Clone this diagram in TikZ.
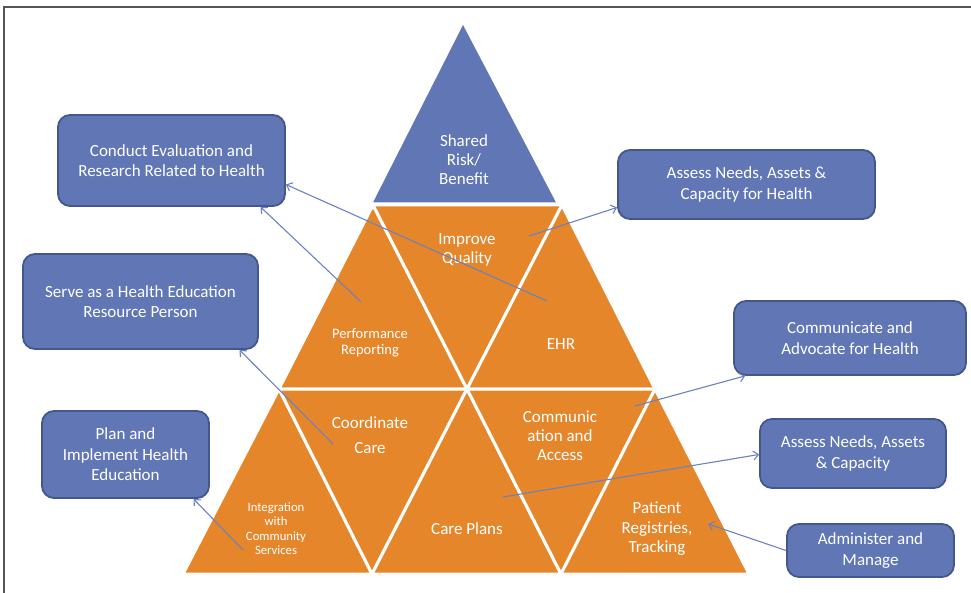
\documentclass[tikz,border=0pt]{standalone}
\usepackage{fontspec}
\setmainfont{Carlito}
\usetikzlibrary{arrows.meta,calc}
\definecolor{capblue}{HTML}{6076B5}
\definecolor{capedge}{HTML}{43578C}
\definecolor{tileorange}{HTML}{E6862A}
\definecolor{linkblue}{HTML}{6A82C0}
\definecolor{framegray}{HTML}{555555}
\begin{document}
\begin{tikzpicture}[x=1pt,y=-1pt,
  tile/.style={fill=tileorange,draw=white,line width=3pt,line join=miter},
  tilelabel/.style={text=white,align=center,inner sep=0pt,font=\fontsize{17}{19.5}\selectfont},
  smalllabel/.style={tilelabel,font=\fontsize{14.5}{16}\selectfont},
  tinylabel/.style={tilelabel,font=\fontsize{12.7}{14.5}\selectfont},
  rolebox/.style={rectangle,rounded corners=12pt,fill=capblue,draw=capedge,
    line width=1.8pt,text=white,align=center,inner sep=0pt,
    font=\fontsize{17}{20.5}\selectfont},
  link/.style={draw=linkblue,line width=1.1pt,-{Straight Barb[length=5pt,width=9pt]}},
]
\useasboundingbox (0,0) rectangle (971,593);
% frame edges
\draw[framegray,line width=1.2pt] (4,593) -- (4,7) -- (971,7);

% lattice of the pyramid
\coordinate (A1) at (373,205);
\coordinate (A2) at (562,205);
\coordinate (B0) at (279,389);
\coordinate (B1) at (467,389);
\coordinate (B2) at (655,389);
\coordinate (C0) at (183,574);
\coordinate (C1) at (372,574);
\coordinate (C2) at (561,574);
\coordinate (C3) at (749,574);

% top cap
\fill[capblue] (463,25) -- (373,202.5) -- (556,202.5) -- cycle;

% orange tiles
\path[tile] (A1) -- (B0) -- (B1) -- cycle;
\path[tile] (A1) -- (A2) -- (B1) -- cycle;
\path[tile] (A2) -- (B1) -- (B2) -- cycle;
\path[tile] (B0) -- (C0) -- (C1) -- cycle;
\path[tile] (B0) -- (B1) -- (C1) -- cycle;
\path[tile] (B1) -- (C1) -- (C2) -- cycle;
\path[tile] (B1) -- (B2) -- (C2) -- cycle;
\path[tile] (B2) -- (C2) -- (C3) -- cycle;

% tile labels
\node[tilelabel,font=\fontsize{17}{19}\selectfont] (shared) at (464,160) {Shared\\Risk/\\Benefit};
\node[tilelabel] (quality) at (467,250) {Improve\\Quality};
\node[smalllabel] (perf) at (370,343) {Performance\\Reporting};
\node[tilelabel] (ehr) at (561,344) {EHR};
\node[tilelabel,font=\fontsize{17}{25}\selectfont] (coord) at (370,435.5) {Coordinate\\Care};
\node[tinylabel] (integ) at (276,528.5) {Integration\\with\\Community\\Services};
\node[tilelabel] (plans) at (467,529) {Care Plans};
\node[tilelabel,font=\fontsize{17}{19}\selectfont] (comm) at (560,436) {Communic\\ation and\\Access};
\node[tilelabel] (registry) at (657,529) {Patient\\Registries,\\Tracking};

% role boxes
\node[rolebox,minimum width=227pt,minimum height=91pt] (evalbox) at (171.5,160.5)
  {Conduct Evaluation and\\Research Related to Health};
\node[rolebox,minimum width=257pt,minimum height=69pt] (needsbox) at (746.5,184.5)
  {Assess Needs, Assets \&\\Capacity for Health};
\node[rolebox,minimum width=235pt,minimum height=95pt] (resourcebox) at (140.5,301.5)
  {Serve as a Health Education\\Resource Person};
\node[rolebox,minimum width=232pt,minimum height=74pt] (advocatebox) at (850,338)
  {Communicate and\\Advocate for Health};
\node[rolebox,minimum width=167pt,minimum height=87pt] (planbox) at (125.5,454.5)
  {Plan and\\Implement Health\\Education};
\node[rolebox,minimum width=186pt,minimum height=69pt] (capacitybox) at (853,453.5)
  {Assess Needs, Assets\\\& Capacity};
\node[rolebox,minimum width=167pt,minimum height=53pt] (adminbox) at (870.5,550.5)
  {Administer and\\Manage};

% connector ends inside the tiles
\coordinate (ehrTail) at (547,301);
\coordinate (perfTail) at (361,302);
\coordinate (qualityTail) at (529,236);
\coordinate (coordTail) at (333,444);
\coordinate (commTail) at (635,406);
\coordinate (integTail) at (243,550);
\coordinate (plansTail) at (503,497);
\coordinate (registryTip) at (708,524);

% connectors
\draw[link] (ehrTail) -- ($(evalbox.east)+(0,24)$);
\draw[link] (perfTail) -- ($(evalbox.south)+(89,0)$);
\draw[link] (qualityTail) -- ($(needsbox.west)+(0,23)$);
\draw[link] (coordTail) -- ($(resourcebox.south)+(99,0)$);
\draw[link] (commTail) -- ($(advocatebox.south west)+(12,0)$);
\draw[link] (integTail) -- ($(planbox.south)+(68,0)$);
\draw[link] (plansTail) -- ($(capacitybox.west)+(0,1)$);
\draw[link] (adminbox.west) -- (registryTip);
\end{tikzpicture}
\end{document}
